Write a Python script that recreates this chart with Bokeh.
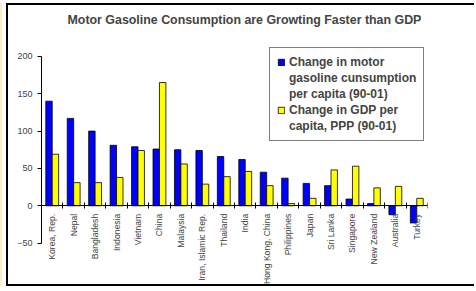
import math
import numpy as np
from bokeh.plotting import figure
from bokeh.models import (FixedTicker, LinearAxis, Legend, LegendItem,
                          ColumnDataSource, Range1d)
from bokeh.transform import dodge
from bokeh.embed import file_html
from bokeh.resources import INLINE

countries = ["Korea, Rep.", "Nepal", "Bangladesh", "Indonesia", "Vietnam", "China",
             "Malaysia", "Iran, Islamic Rep.", "Thailand", "India", "Hong Kong, China",
             "Philippines", "Japan", "Sri Lanka", "Singapore", "New Zealand",
             "Australia", "Turkey"]
gasoline = [140, 117, 100, 81, 79, 76, 75, 74, 66, 62, 45, 37, 30, 27, 9, 3, -12, -23]
gdp = [69, 31, 31, 38, 74, 165, 56, 29, 39, 46, 27, 3, 10, 48, 53, 24, 26, 10]
y_ticks = [-50, 0, 50, 100, 150, 200]
legend_gas = ["Change in motor", "gasoline cunsumption", "per capita (90-01)"]
legend_gdp = ["Change in GDP per", "capita, PPP (90-01)"]

FONT = "Liberation Sans"

xc = np.arange(len(countries)) + 0.5
bounds_x = list(range(len(countries) + 1))
src = ColumnDataSource(dict(x=xc, gas=gasoline, gdp=gdp))

p = figure(width=468, height=283,
           x_range=Range1d(0, len(countries)), y_range=Range1d(-110.7, 233.3),
           output_backend="svg", toolbar_location=None,
           x_axis_location=None, y_axis_location=None,
           min_border_left=33, min_border_right=49, min_border_top=25, min_border_bottom=0)
p.outline_line_color = None
p.grid.visible = False
p.styles = {"border-left": "2px solid black", "border-top": "2px solid black",
            "border-bottom": "2px solid black", "margin-left": "6px", "margin-top": "3px",
            "box-shadow": "-4px 0 0 0 white, -6px 0 0 0 #FFF0C4"}

p.title.text = "Motor Gasoline Consumption are Growting Faster than GDP"
p.title.align = "left"
p.title.offset = 26
p.title.text_font = FONT
p.title.text_font_size = "12.4px"
p.title.text_font_style = "bold"

r1 = p.vbar(x=dodge("x", -0.15, range=p.x_range), top="gas", width=0.3, source=src,
            fill_color="#0000FF", line_color="black", line_width=0.8)
r2 = p.vbar(x=dodge("x", 0.15, range=p.x_range), top="gdp", width=0.3, source=src,
            fill_color="#FFFF00", line_color="black", line_width=0.8)
# invisible renderer used only for continuation lines of the legend
empty = ColumnDataSource(dict(x=[], top=[]))
r0 = p.vbar(x="x", top="top", width=0.3, source=empty, fill_alpha=0, line_alpha=0)

yaxis = LinearAxis(ticker=FixedTicker(ticks=y_ticks), bounds=(min(y_ticks), max(y_ticks)),
                   major_tick_out=4, major_tick_in=0, minor_tick_out=0, minor_tick_in=0,
                   major_label_text_font=FONT, major_label_text_font_size="9px",
                   major_label_standoff=5, axis_line_color="black", major_tick_line_color="black")
p.add_layout(yaxis, "left")

xaxis = LinearAxis(ticker=FixedTicker(ticks=[float(v) for v in xc], minor_ticks=bounds_x),
                   fixed_location=0,
                   major_label_overrides={float(v): c for v, c in zip(xc, countries)},
                   major_tick_in=0, major_tick_out=0, minor_tick_in=3, minor_tick_out=3,
                   minor_tick_line_color="black", axis_line_color="black",
                   major_label_orientation=math.pi / 2,
                   major_label_standoff=5, major_label_text_font=FONT,
                   major_label_text_font_size="8.6px")
p.add_layout(xaxis, "below")

items = [LegendItem(label=legend_gas[0], renderers=[r1])]
items += [LegendItem(label=t, renderers=[r0]) for t in legend_gas[1:]]
items += [LegendItem(label=legend_gdp[0], renderers=[r2])]
items += [LegendItem(label=t, renderers=[r0]) for t in legend_gdp[1:]]

legend = Legend(items=items, location=(228, 147), border_line_color="black", border_line_width=1,
                label_text_font=FONT, label_text_font_size="12px", label_text_font_style="bold",
                label_height=14, glyph_width=8, glyph_height=8, label_standoff=4,
                padding=7, spacing=2, margin=0, background_fill_alpha=1.0)
p.add_layout(legend)

open("out.html", "w").write(file_html(p, INLINE))
